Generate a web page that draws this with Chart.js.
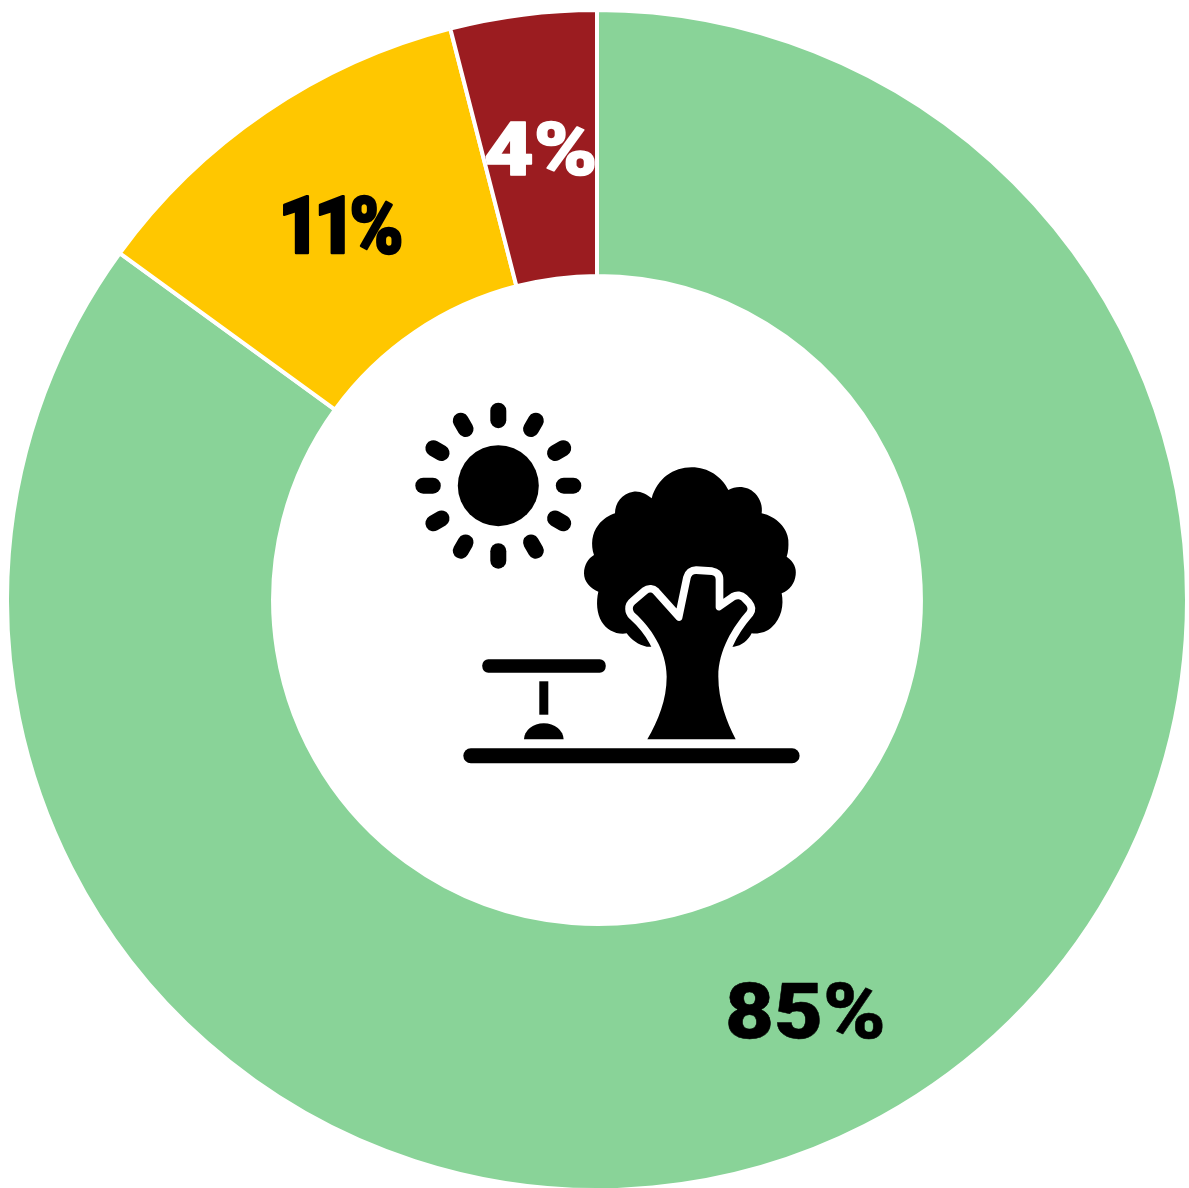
<!DOCTYPE html>
<html>
<head>
<meta charset="utf-8">
<style>
html,body{margin:0;padding:0;background:#fff;overflow:hidden}
#wrap{position:absolute;left:0;top:0;width:1189px;height:1188px;overflow:hidden}
</style>
<script src="https://cdn.jsdelivr.net/npm/chart.js@4/dist/chart.umd.min.js"></script>
</head>
<body>
<div id="wrap"><canvas id="c" width="1189" height="1200"></canvas></div>
<script>
const categories = ["Green", "Yellow", "Red"];
const values = [85, 11, 4];
const sliceColors = ["#89D398", "#FFC700", "#9B1C20"];
const labelColors = ["#000000", "#000000", "#FFFFFF"];
const labelFonts = ["900 77px Roboto", "900 79px Roboto", "900 74px Roboto"];
const labelShift = [[1, 12], [-2.5, 11], [1, 10]];
const labelStretch = [1.1, 0.92, 1.16];
const labelTracking = ["0px", "-7px", "0px"];
const labelHeavy = [0.5, 2.5, 1.5];

const crown = "M245 145 C262 85 310 52 365 52 C415 52 455 80 475 120 C500 105 535 108 555 130 C572 148 578 170 575 190 C620 200 652 235 655 270 C656 290 655 305 650 320 C672 335 680 355 677 375 C674 400 660 420 635 430 C642 465 635 505 605 532 C590 547 565 553 545 550 C535 570 515 588 492 590 L230 590 C205 585 185 570 170 550 C140 555 110 540 95 515 C80 490 78 455 85 425 C60 415 42 395 42 370 C42 345 55 325 72 315 C62 285 65 250 85 225 C98 208 118 195 135 190 C135 160 155 130 190 125 C210 122 230 132 245 145 Z";
const trunk = "M232 868 C265 810 290 750 290 680 C290 600 240 530 195 490 C187 482 186 470 195 463 L232 431 C238 426 245 427 250 432 L320 510 C326 516 335 513 337 505 L362 385 C364 376 370 372 378 372 L425 375 C432 376 437 380 437 388 L437 472 C437 480 445 484 452 480 L495 450 C502 446 510 447 515 452 L528 466 C533 472 534 478 530 484 C490 530 445 600 445 680 C445 750 470 815 497 868 Z";

const iconPlugin = {
  id: "centerIcon",
  afterDraw(chart) {
    const arc = chart.getDatasetMeta(0).data[0];
    const ctx = chart.ctx;
    ctx.save();
    ctx.translate(arc.x, arc.y);
    ctx.fillStyle = "#000";
    // sun
    const sx = -98.7, sy = -114.3;
    ctx.beginPath();
    ctx.arc(sx, sy, 40.5, 0, Math.PI * 2);
    ctx.fill();
    ctx.strokeStyle = "#000";
    ctx.lineWidth = 16;
    ctx.lineCap = "round";
    for (let i = 0; i < 12; i++) {
      const a = i * Math.PI / 6;
      ctx.beginPath();
      ctx.moveTo(sx + Math.cos(a) * 65.5, sy + Math.sin(a) * 65.5);
      ctx.lineTo(sx + Math.cos(a) * 75, sy + Math.sin(a) * 75);
      ctx.stroke();
    }
    // bench
    ctx.beginPath(); ctx.roundRect(482.3 - 597, 659.3 - 600, 123.4, 13.4, 6); ctx.fill();
    ctx.fillRect(539.3 - 597, 681.3 - 600, 9, 33.4);
    ctx.beginPath(); ctx.ellipse(543.8 - 597, 739.3 - 600, 19.8, 16, 0, Math.PI, 0); ctx.closePath(); ctx.fill();
    // ground
    ctx.beginPath(); ctx.roundRect(463.3 - 597, 748.3 - 600, 336.3, 15, 7.5); ctx.fill();
    // tree
    ctx.save();
    ctx.translate(-27, -150);
    ctx.scale(1 / 3, 1 / 3);
    ctx.fill(new Path2D(crown));
    const t = new Path2D(trunk);
    ctx.strokeStyle = "#fff";
    ctx.lineWidth = 46;
    ctx.lineJoin = "round";
    ctx.stroke(t);
    ctx.fillStyle = "#000";
    ctx.fill(t);
    ctx.restore();
    ctx.restore();
  }
};

const labelPlugin = {
  id: "sliceLabels",
  afterDatasetsDraw(chart) {
    const ctx = chart.ctx;
    chart.getDatasetMeta(0).data.forEach((el, i) => {
      const p = el.tooltipPosition();
      const text = values[i] + "%";
      ctx.save();
      ctx.translate(p.x + labelShift[i][0], p.y + labelShift[i][1]);
      ctx.scale(labelStretch[i], 1);
      ctx.font = labelFonts[i];
      ctx.letterSpacing = labelTracking[i];
      ctx.fillStyle = labelColors[i];
      ctx.strokeStyle = labelColors[i];
      ctx.lineWidth = labelHeavy[i];
      ctx.lineJoin = "round";
      ctx.textAlign = "center";
      ctx.textBaseline = "middle";
      ctx.strokeText(text, 0, 0);
      ctx.fillText(text, 0, 0);
      ctx.restore();
    });
  }
};

new Chart(document.getElementById("c"), {
  type: "doughnut",
  data: {
    labels: categories,
    datasets: [{
      data: values,
      backgroundColor: sliceColors,
      borderColor: "#FFFFFF",
      borderWidth: 4
    }]
  },
  options: {
    responsive: false,
    animation: false,
    cutout: "54.9%",
    layout: { padding: { left: 5, right: 0, top: 8, bottom: 8 } },
    plugins: { legend: { display: false }, tooltip: { enabled: false } }
  },
  plugins: [labelPlugin, iconPlugin]
});
</script>
</body>
</html>
